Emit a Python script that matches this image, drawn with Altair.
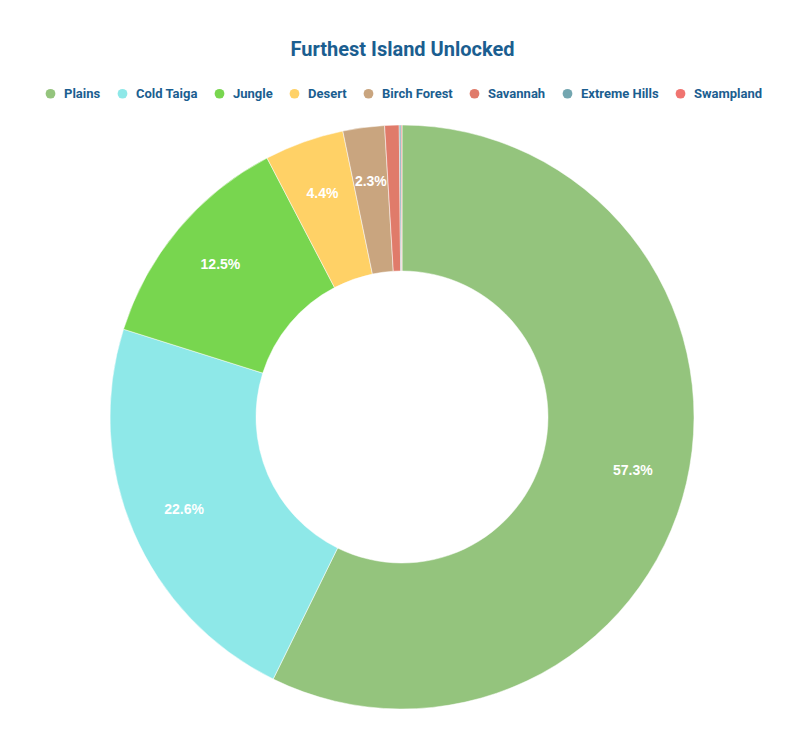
import altair as alt
import pandas as pd

categories = ["Plains", "Cold Taiga", "Jungle", "Desert", "Birch Forest", "Savannah", "Extreme Hills", "Swampland"]
values = [57.3, 22.6, 12.5, 4.4, 2.3, 0.8, 0.1, 0.05]
colors = ["#94c47d", "#8ee8e8", "#78d64f", "#ffd166", "#c9a57f", "#e07b6a", "#73a6b0", "#f07470"]

df = pd.DataFrame({
    "category": categories,
    "value": values,
    "order": list(range(len(categories))),
    "label": [f"{v:.1f}%" if v >= 2 else "" for v in values],
})

CX, CY = 394, 339
TXT = "#1b5e90"

base = alt.Chart(df).encode(
    theta=alt.Theta("value:Q", stack=True),
    order=alt.Order("order:Q", sort="ascending"),
)

arcs = base.mark_arc(outerRadius=292, innerRadius=146, stroke="white", strokeWidth=0.5).encode(
    x=alt.value(CX),
    y=alt.value(CY),
    color=alt.Color(
        "category:N",
        scale=alt.Scale(domain=categories, range=colors),
        sort=categories,
        legend=alt.Legend(
            title=None,
            orient="none",
            direction="horizontal",
            columns=8,
            legendX=36,
            legendY=9,
            symbolType="circle",
            symbolSize=95,
            symbolStrokeWidth=0,
            labelFont="Roboto",
            labelFontSize=13,
            labelFontWeight="bold",
            labelColor=TXT,
            labelOffset=7,
            columnPadding=15,
        ),
    ),
)

labels = base.mark_text(
    radius=237, font="Liberation Sans", fontSize=14, fontWeight="bold", color="white"
).encode(
    x=alt.value(CX),
    y=alt.value(CY),
    text="label:N",
)

chart = (
    alt.layer(arcs, labels)
    .properties(
        width=789,
        height=661,
        autosize="none",
        padding={"left": 0, "top": 70, "right": 0, "bottom": 0},
        title=alt.TitleParams(
            "Furthest Island Unlocked",
            font="Roboto",
            fontSize=20,
            fontWeight="bold",
            color=TXT,
            anchor="middle",
            offset=18,
        ),
    )
    .configure_view(stroke=None)
)

chart.save("out.html", embed_options={"renderer": "svg", "actions": False})
